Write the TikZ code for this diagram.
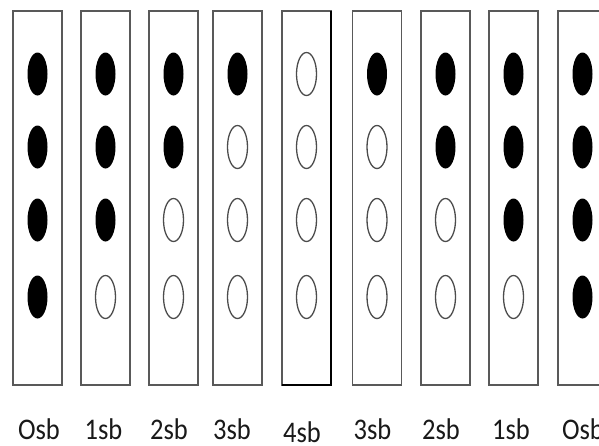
\documentclass[tikz,border=0pt]{standalone}
\usepackage{fontspec}
\setmainfont{Carlito}
\usetikzlibrary{shapes.geometric}
\tikzset{
  stripbox/.style={draw=black!65, line width=1.3pt, minimum width=49pt, minimum height=374pt, inner sep=0pt, outer sep=0pt},
  full/.style={ellipse, fill=black, minimum width=20pt, minimum height=43pt, inner sep=0pt},
  hollow/.style={ellipse, draw=black!70, line width=1.3pt, fill=white, minimum width=20pt, minimum height=43pt, inner sep=0pt},
  lbl/.style={font=\fontsize{26.5}{28}\selectfont, yscale=1.13, anchor=base, inner sep=0pt, text=black!90}
}
\begin{document}
\begin{tikzpicture}[x=1pt,y=-1pt]
\useasboundingbox (0,0) rectangle (599,445);
\clip (0,0) rectangle (599,445);
\fill[white] (0,0) rectangle (599,445);
% boxes
\node[stripbox] (b1) at (37.5,198) {};
\node[stripbox] (b2) at (105.5,198) {};
\node[stripbox] (b3) at (173.5,198) {};
\node[stripbox] (b4) at (237.5,198) {};
\node[stripbox] (b5) at (306.5,198) {};
\node[stripbox] (b6) at (377,198) {};
\node[stripbox] (b7) at (445.5,198) {};
\node[stripbox] (b8) at (513.5,198) {};
\node[stripbox] (b9) at (582.5,198) {};
\draw[black, line width=2pt] (b5.north east) -- (b5.south east) -- (b5.south west);
% dots: rows at 74,147,220,297
\foreach \name/\x/\pat in {c1/37.5/{1,1,1,1}, c2/105.5/{1,1,1,0}, c3/173.5/{1,1,0,0}, c4/237.5/{1,0,0,0}, c5/306.5/{0,0,0,0}, c6/377/{1,0,0,0}, c7/445.5/{1,1,0,0}, c8/513.5/{1,1,1,0}, c9/582.5/{1,1,1,1}}{
  \foreach \f [count=\r] in \pat {
    \pgfmathsetmacro{\yy}{\r==4 ? 297 : 74+(\r-1)*73}
    \ifnum\f=1
      \node[full] (\name r\r) at (\x,\yy) {};
    \else
      \node[hollow] (\name r\r) at (\x,\yy) {};
    \fi
  }
}
% labels
\node[lbl] (l1) at (39,439) {Osb};
\node[lbl] (l2) at (103.5,439) {1sb};
\node[lbl] (l3) at (169,439) {2sb};
\node[lbl] (l4) at (232,439) {3sb};
\node[lbl] (l5) at (302,442.5) {4sb};
\node[lbl] (l6) at (372.5,439) {3sb};
\node[lbl] (l7) at (441,439) {2sb};
\node[lbl] (l8) at (511,439) {1sb};
\node[lbl] (l9) at (583,439) {Osb};
\end{tikzpicture}
\end{document}
